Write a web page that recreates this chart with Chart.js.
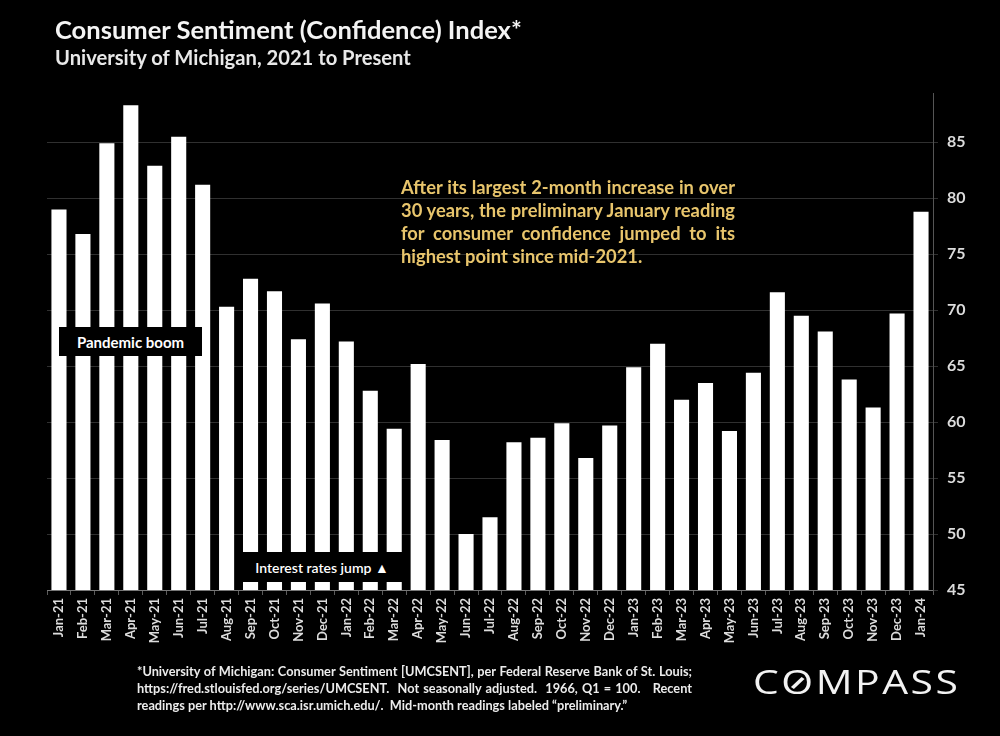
<!DOCTYPE html>
<html>
<head>
<meta charset="utf-8">
<script src="https://cdn.jsdelivr.net/npm/chart.js@4.4.1/dist/chart.umd.min.js"></script>
<style>
  html, body { margin:0; padding:0; background:#000; }
  body { width:1000px; height:736px; position:relative; overflow:hidden; font-family: Lato, "Open Sans", sans-serif; }
  #c { position:absolute; left:0; top:0; }
  .abs { position:absolute; white-space:nowrap; }
  #title { left:55px; top:17px; font-size:23px; font-weight:700; color:#f4f4f4; line-height:1; }
  #subtitle { left:55px; top:47px; font-size:18px; font-weight:700; color:#e8e8e8; line-height:1; }
  .box { position:absolute; background:#000; color:#fff; font-weight:700; display:flex; align-items:center; justify-content:center; white-space:nowrap; z-index:2; }
  #note { left:401px; top:176px; color:#e8c56c; font-weight:700; font-size:15px; line-height:23px; z-index:2; }
  #foot { left:137px; top:663px; color:#ececec; font-weight:700; font-size:12px; line-height:17px; z-index:2; }
  .ln { display:block; white-space:nowrap; text-align:left; }
  .ln span { display:inline-block; white-space:nowrap; }
  #logo { left:753px; top:666px; font-family:"Open Sans", Lato, sans-serif; font-size:32px; font-weight:400; color:#f2f2f2; line-height:1; letter-spacing:2px; z-index:2; transform-origin:0 0; }
  #logo .o { position:relative; display:inline-block; }
  #logo .o::after { content:""; position:absolute; left:50%; top:50%; width:3px; height:13px; background:#f2f2f2; transform:translate(-50%, -50%) rotate(40deg); margin-left:-1px; margin-top:1px; }
</style>
</head>
<body>
<canvas id="c" width="1000" height="736"></canvas>
<div id="title" class="abs">Consumer Sentiment (Confidence) Index*</div>
<div id="subtitle" class="abs">University of Michigan, 2021 to Present</div>
<div class="box" style="left:59px;top:327px;width:143px;height:29px;font-size:15px;">Pandemic boom</div>
<div class="box" style="left:238px;top:552px;width:168px;height:30px;font-size:14px;font-weight:600;">Interest rates jump&nbsp;▲</div>
<div id="note" class="abs">
  <div class="ln"><span class="j" id="n1">After its largest 2-month increase in over</span></div>
  <div class="ln"><span class="j">30 years, the preliminary January reading</span></div>
  <div class="ln"><span class="j">for consumer confidence jumped to its</span></div>
  <div class="ln"><span>highest point since mid-2021.</span></div>
</div>
<div id="foot" class="abs">
  <div class="ln"><span class="j" id="f1">*University of Michigan: Consumer Sentiment [UMCSENT], per Federal Reserve Bank of St. Louis;</span></div>
  <div class="ln"><span class="j">https://fred.stlouisfed.org/series/UMCSENT.&nbsp; Not seasonally adjusted.&nbsp; 1966, Q1 = 100.&nbsp;&nbsp; Recent</span></div>
  <div class="ln"><span>readings per http://www.sca.isr.umich.edu/.&nbsp; Mid-month readings labeled “preliminary.”</span></div>
</div>
<div id="logo" class="abs">C<span class="o">O</span>MPASS</div>
<script>
const months = ["Jan-21","Feb-21","Mar-21","Apr-21","May-21","Jun-21","Jul-21","Aug-21","Sep-21","Oct-21","Nov-21","Dec-21",
  "Jan-22","Feb-22","Mar-22","Apr-22","May-22","Jun-22","Jul-22","Aug-22","Sep-22","Oct-22","Nov-22","Dec-22",
  "Jan-23","Feb-23","Mar-23","Apr-23","May-23","Jun-23","Jul-23","Aug-23","Sep-23","Oct-23","Nov-23","Dec-23",
  "Jan-24"];
const sentiment = [79.0, 76.8, 84.9, 88.3, 82.9, 85.5, 81.2, 70.3, 72.8, 71.7, 67.4, 70.6,
  67.2, 62.8, 59.4, 65.2, 58.4, 50.0, 51.5, 58.2, 58.6, 59.9, 56.8, 59.7,
  64.9, 67.0, 62.0, 63.5, 59.2, 64.4, 71.6, 69.5, 68.1, 63.8, 61.3, 69.7,
  78.8];
const yMin = 45, yMax = 89.4, yStep = 5;

function fitWidth(el, target) {
  const fs = parseFloat(getComputedStyle(el).fontSize);
  const w = el.getBoundingClientRect().width;
  el.style.fontSize = (fs * target / w) + 'px';
}
function fitBlock(block, span, target) {
  const fs = parseFloat(getComputedStyle(block).fontSize);
  const w = span.getBoundingClientRect().width;
  block.style.fontSize = (fs * target / w) + 'px';
}
function justify(block, target) {
  block.querySelectorAll('span.j').forEach(sp => {
    sp.style.wordSpacing = '0px';
    const w = sp.getBoundingClientRect().width;
    const n = (sp.textContent.match(/[ \u00a0]/g) || []).length;
    if (n > 0) sp.style.wordSpacing = ((target - w) / n) + 'px';
  });
}
fitWidth(document.getElementById('title'), 467);
fitWidth(document.getElementById('subtitle'), 356);
const note = document.getElementById('note'), foot = document.getElementById('foot');
fitBlock(note, document.getElementById('n1'), 332);
justify(note, 334);
fitBlock(foot, document.getElementById('f1'), 550);
justify(foot, 555);
(function(){
  const logo = document.getElementById('logo');
  const w = logo.getBoundingClientRect().width - 2;
  logo.style.transform = 'scaleX(' + (205 / w) + ')';
})();

new Chart(document.getElementById('c'), {
  type: 'bar',
  data: {
    labels: months,
    datasets: [{
      data: sentiment,
      backgroundColor: '#ffffff',
      borderWidth: 0,
      barPercentage: 0.63,
      categoryPercentage: 1.0
    }]
  },
  options: {
    responsive: false,
    animation: false,
    devicePixelRatio: 1,
    layout: { padding: { left: 47, top: 93, right: 0, bottom: 0 } },
    plugins: { legend: { display: false }, tooltip: { enabled: false }, title: { display: false } },
    scales: {
      x: {
        type: 'category',
        offset: true,
        grid: { display: true, drawOnChartArea: false, drawTicks: true, tickLength: 5, color: '#5a5a5a', offset: true },
        border: { display: true, color: '#777' },
        ticks: { color: '#dcdcdc', font: { family: 'Lato', weight: 'bold', size: 13 }, minRotation: 90, maxRotation: 90, autoSkip: false, padding: 3 },
        afterFit: s => { s.height = 146; }
      },
      y: {
        position: 'right',
        min: yMin, max: yMax,
        ticks: { stepSize: yStep, color: '#dcdcdc', font: { family: 'Lato', weight: 'bold', size: 16 }, padding: 9 },
        grid: { color: '#303030', tickLength: 5 },
        border: { display: true, color: '#555' },
        afterBuildTicks: s => { s.ticks = s.ticks.filter(t => Math.abs(t.value % yStep) < 1e-6); },
        afterFit: s => { s.width = 67; }
      }
    }
  }
});
</script>
</body>
</html>
